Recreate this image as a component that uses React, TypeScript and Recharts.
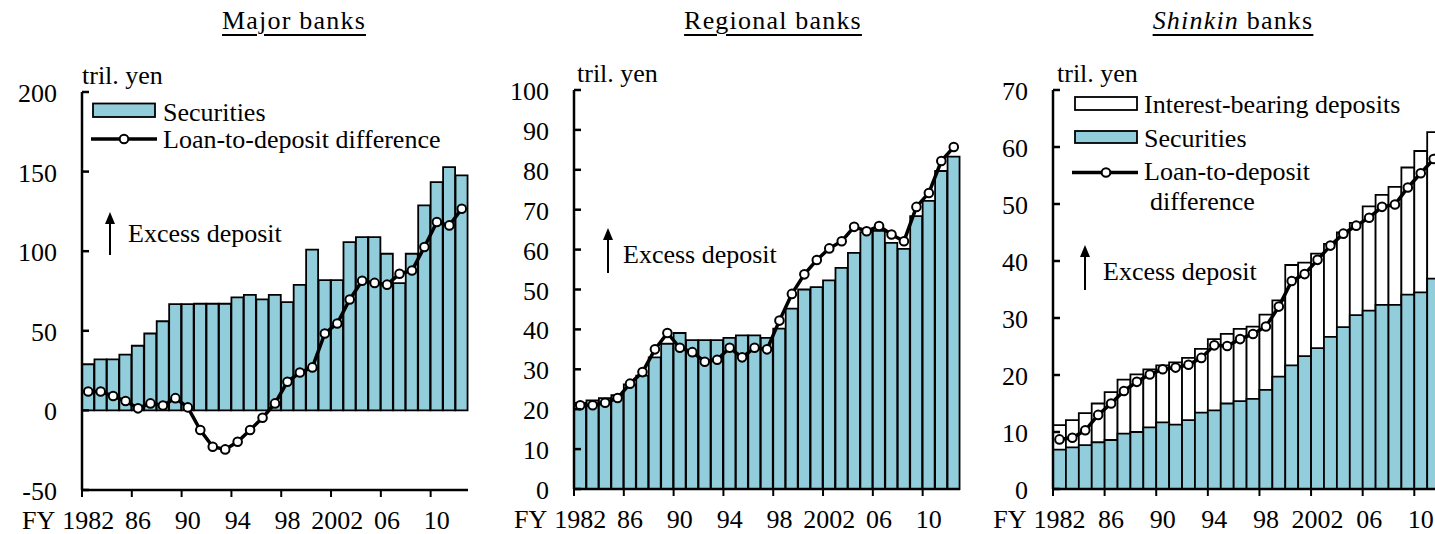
import React from 'react'
import { ComposedChart, Bar, Line, XAxis, YAxis } from 'recharts'

// fiscal years shown on every panel
const years = [
  1982, 1983, 1984, 1985, 1986, 1987, 1988, 1989, 1990, 1991,
  1992, 1993, 1994, 1995, 1996, 1997, 1998, 1999, 2000, 2001,
  2002, 2003, 2004, 2005, 2006, 2007, 2008, 2009, 2010, 2011, 2012,
]
const yearTicks = [1982, 1986, 1990, 1994, 1998, 2002, 2006, 2010]
const yearTickLabels = ['1982', '86', '90', '94', '98', '2002', '06', '10']

// tril. yen
const majorSecurities = [
  29, 32, 32, 35, 40.6, 48.3, 56, 66.7, 66.7, 67,
  67, 67, 71, 72.6, 69.7, 72.6, 68, 78.9, 101, 81.8,
  81.8, 105.7, 108.9, 108.9, 98.4, 80, 98.4, 128.8, 143.4, 152.8, 147.6,
]
const majorLoanGap = [
  11.9, 11.9, 9, 5.9, 1.3, 4.4, 3.1, 7.7, 1.9, -12.3,
  -22.8, -24.5, -19.7, -12.3, -4.6, 4.4, 18, 23.8, 27, 48.3,
  54.6, 69.7, 81.4, 80.1, 79, 85.8, 87.9, 102.6, 118.3, 116.2, 126.7,
]

const regionalSecurities = [
  21.6, 22.2, 22.8, 23.5, 26.2, 28.4, 33, 36.4, 39.1, 37.3,
  37.3, 37.3, 37.9, 38.5, 38.5, 37.9, 40.2, 45.2, 50, 50.6,
  52.3, 55.4, 59.2, 64.4, 64.7, 61.7, 60.2, 68.4, 72.2, 79.7, 83.3,
]
const regionalLoanGap = [
  21, 21, 21.6, 22.8, 26.4, 29.3, 35, 39.1, 35.4, 34.3,
  31.9, 32.4, 35.4, 33, 35.4, 35, 42.2, 48.9, 53.8, 57.4,
  60.3, 62.1, 65.7, 64.6, 65.9, 63.8, 62.1, 70.7, 74.2, 82.2, 85.7,
]

const shinkinDeposits = [
  11.2, 12.1, 13.3, 15, 17, 19.2, 20.1, 21, 21.7, 22.2,
  23, 24.6, 26.3, 27.2, 28.1, 28.5, 30.6, 33.1, 39.3, 39.7,
  41.3, 43, 45, 46.7, 49.6, 51.6, 53, 56.4, 59.3, 62.6, 65,
]
const shinkinSecurities = [
  6.9, 7.3, 7.7, 8.2, 8.6, 9.7, 10, 10.8, 11.7, 11.3,
  12.1, 13.4, 13.8, 15, 15.4, 15.8, 17.4, 19.7, 21.7, 23.3,
  24.7, 26.7, 28.4, 30.5, 31.3, 32.3, 32.3, 34.1, 34.5, 36.9, 38,
]
const shinkinLoanGap = [
  8.7, 9, 10.3, 13, 15, 17.2, 18.8, 20.1, 21, 21.3,
  21.8, 23, 25.2, 25.1, 26.3, 27.2, 28.5, 32, 36.5, 37.7,
  40.2, 42.7, 44.8, 46.2, 47.6, 49.5, 49.9, 52.9, 55.4, 57.9, 60,
]

const majorTicks = [-50, 0, 50, 100, 150, 200]
const regionalTicks = [0, 10, 20, 30, 40, 50, 60, 70, 80, 90, 100]
const shinkinTicks = [0, 10, 20, 30, 40, 50, 60, 70]

const BLUE = '#92CDDC'
const FONT = "'Liberation Serif', 'Times New Roman', serif"
const txt = { fontFamily: FONT, fontSize: 26, fill: '#000' }

const majorData = years.map((year, i) => ({ year, securities: majorSecurities[i], gap: majorLoanGap[i] }))
const regionalData = years.map((year, i) => ({ year, securities: regionalSecurities[i], gap: regionalLoanGap[i] }))
const shinkinData = years.map((year, i) => ({
  year,
  deposits: shinkinDeposits[i],
  securities: shinkinSecurities[i],
  gap: shinkinLoanGap[i],
}))

// ticks sit on the left edge of the labelled year's bar, labels on its centre
const YearTick = ({ x, y, payload, band }: any) => {
  const i = yearTicks.indexOf(payload.value)
  if (i < 0) return <g />
  const left = x - band / 2
  return (
    <g>
      <line x1={left} x2={left} y1={y} y2={y + 7} stroke="#000" strokeWidth={2} />
      <text x={x} y={y + 39} textAnchor="middle" style={txt}>{yearTickLabels[i]}</text>
      {i === 0 && <text x={x - 33} y={y + 39} textAnchor="end" style={txt}>FY</text>}
    </g>
  )
}

// inward tick marks on the value axis
const ValueTick = ({ x, y, payload }: any) => (
  <g>
    <line x1={x} x2={x + 7} y1={y} y2={y} stroke="#000" strokeWidth={2.5} />
    <text x={x - 25} y={y + 10} textAnchor="end" style={txt}>{payload.value}</text>
  </g>
)

const axisLine = { stroke: '#000', strokeWidth: 2.5 }
const dot = { r: 4.3, fill: '#fff', stroke: '#000', strokeWidth: 2 }

function Panel({ left, width, axisW, right, top, xH, data, domain, ticks, children }: any) {
  const band = (width - axisW - right) / years.length
  return (
    <div style={{ position: 'absolute', left, top: 0 }}>
      <ComposedChart
        width={width}
        height={534}
        data={data}
        margin={{ top, right, bottom: 0, left: 0 }}
        barCategoryGap={0}
        barGap={0}
      >
        <XAxis
          xAxisId="a"
          dataKey="year"
          type="category"
          height={xH}
          interval={0}
          tickSize={0}
          tickMargin={0}
          axisLine={axisLine}
          tickLine={false}
          tick={<YearTick band={band} />}
        />
        <XAxis xAxisId="b" dataKey="year" type="category" hide />
        <YAxis
          width={axisW}
          domain={domain}
          ticks={ticks}
          interval={0}
          tickSize={0}
          tickMargin={0}
          axisLine={axisLine}
          tickLine={false}
          tick={<ValueTick />}
        />
        {children}
      </ComposedChart>
    </div>
  )
}

function Arrow({ x, y1, y2 }: any) {
  return (
    <g>
      <line x1={x} x2={x} y1={y1} y2={y2 + 10} stroke="#000" strokeWidth={2} />
      <polygon points={`${x - 5},${y2 + 12} ${x + 5},${y2 + 12} ${x},${y2}`} fill="#000" />
    </g>
  )
}

const titleStyle: React.CSSProperties = {
  position: 'absolute',
  top: 8,
  transform: 'translateX(-50%)',
  whiteSpace: 'nowrap',
  fontFamily: FONT,
  fontSize: 26,
  lineHeight: '26px',
  letterSpacing: 1.2,
  textDecoration: 'underline',
  textDecorationThickness: 2,
  textUnderlineOffset: 5,
}

export default function App() {
  return (
    <div
      style={{
        position: 'fixed',
        left: 0,
        top: 0,
        width: 1435,
        height: 534,
        overflow: 'hidden',
        background: '#fff',
      }}
    >
      <Panel left={0} width={480} axisW={82} right={12} top={92} xH={44} data={majorData} domain={[-50, 200]} ticks={majorTicks}>
        <Bar xAxisId="a" dataKey="securities" fill={BLUE} stroke="#000" strokeWidth={1.8} isAnimationActive={false} />
        <Line xAxisId="a" type="linear" dataKey="gap" stroke="#000" strokeWidth={3.5} dot={dot} isAnimationActive={false} />
      </Panel>

      <Panel left={490} width={480} axisW={84} right={10} top={90} xH={45} data={regionalData} domain={[0, 100]} ticks={regionalTicks}>
        <Bar xAxisId="a" dataKey="securities" fill={BLUE} stroke="#000" strokeWidth={1.8} isAnimationActive={false} />
        <Line xAxisId="a" type="linear" dataKey="gap" stroke="#000" strokeWidth={3.5} dot={dot} isAnimationActive={false} />
      </Panel>

      <Panel left={980} width={476} axisW={73} right={3} top={90} xH={45} data={shinkinData} domain={[0, 70]} ticks={shinkinTicks}>
        {/* securities overlay the deposit bars on a second, hidden category axis */}
        <Bar xAxisId="a" dataKey="deposits" fill="#fff" stroke="#000" strokeWidth={1.8} isAnimationActive={false} />
        <Bar xAxisId="b" dataKey="securities" fill={BLUE} stroke="#000" strokeWidth={1.8} isAnimationActive={false} />
        <Line xAxisId="a" type="linear" dataKey="gap" stroke="#000" strokeWidth={3.5} dot={dot} isAnimationActive={false} />
      </Panel>

      <div style={{ ...titleStyle, left: 294 }}>Major banks</div>
      <div style={{ ...titleStyle, left: 773 }}>Regional banks</div>
      <div style={{ ...titleStyle, left: 1233 }}>
        <i>Shinkin</i> banks
      </div>

      <svg width={1435} height={534} style={{ position: 'absolute', left: 0, top: 0, pointerEvents: 'none' }}>
        {/* units */}
        <text x={82} y={84} style={txt}>tril. yen</text>
        <text x={577} y={82} style={txt}>tril. yen</text>
        <text x={1057} y={82} style={txt}>tril. yen</text>

        {/* major banks legend */}
        <rect x={93} y={103.5} width={62} height={13.5} fill={BLUE} stroke="#000" strokeWidth={1.8} />
        <text x={163} y={121} style={txt}>Securities</text>
        <line x1={91} x2={157} y1={139} y2={139} stroke="#000" strokeWidth={3.5} />
        <circle cx={124} cy={139} r={4.3} fill="#fff" stroke="#000" strokeWidth={2} />
        <text x={163} y={148} style={txt}>Loan-to-deposit difference</text>

        {/* shinkin banks legend */}
        <rect x={1075} y={97} width={62} height={13} fill="#fff" stroke="#000" strokeWidth={1.8} />
        <text x={1144} y={113} style={txt}>Interest-bearing deposits</text>
        <rect x={1075} y={131} width={62} height={12} fill={BLUE} stroke="#000" strokeWidth={1.8} />
        <text x={1144} y={147} style={txt}>Securities</text>
        <line x1={1072} x2={1138} y1={172.5} y2={172.5} stroke="#000" strokeWidth={3.5} />
        <circle cx={1106} cy={172.5} r={4.3} fill="#fff" stroke="#000" strokeWidth={2} />
        <text x={1144} y={180} style={txt}>Loan-to-deposit</text>
        <text x={1150} y={210} style={txt}>difference</text>

        {/* direction notes */}
        <Arrow x={110} y1={255} y2={212} />
        <text x={128} y={242} style={txt}>Excess deposit</text>
        <Arrow x={608} y1={273} y2={228} />
        <text x={623} y={263} style={txt}>Excess deposit</text>
        <Arrow x={1085} y1={290} y2={245} />
        <text x={1103} y={280} style={txt}>Excess deposit</text>
      </svg>
    </div>
  )
}
